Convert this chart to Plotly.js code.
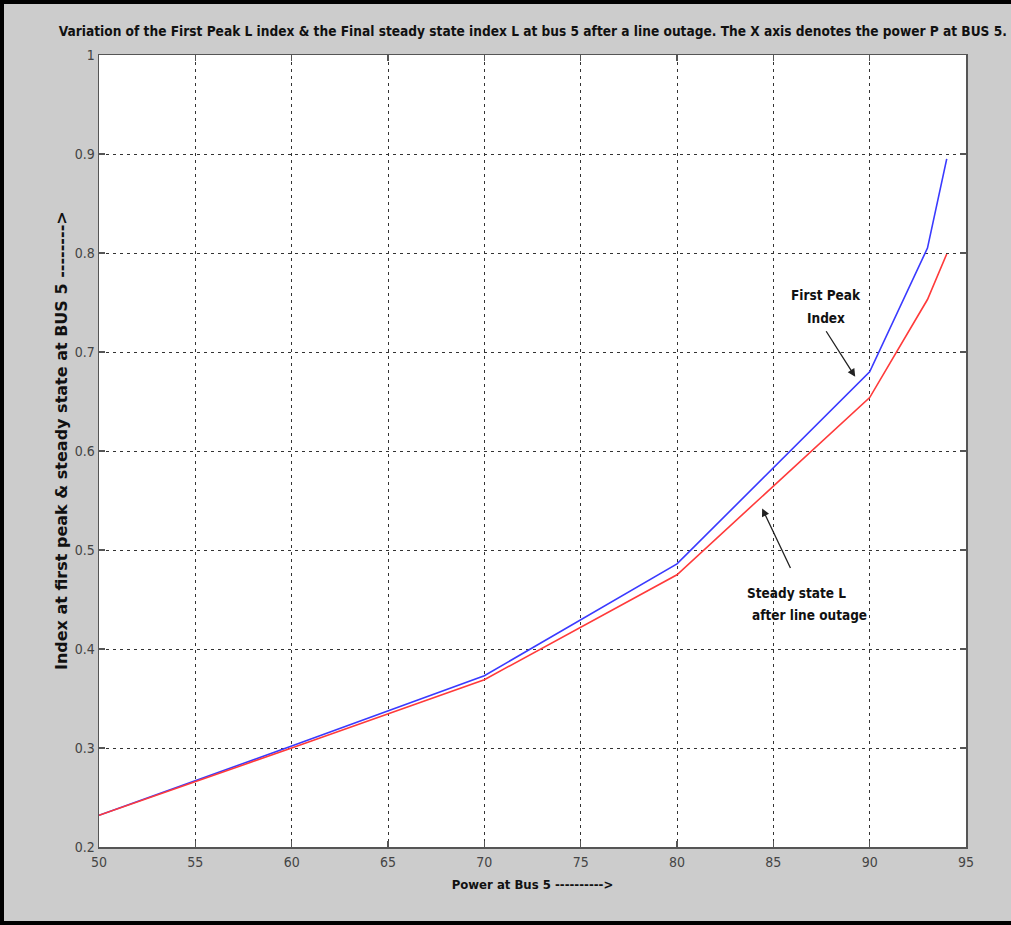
<!DOCTYPE html>
<html>
<head>
<meta charset="utf-8">
<script src="https://cdn.plot.ly/plotly-3.0.1.min.js"></script>
<style>
  html, body { margin: 0; padding: 0; background: #cccccc; }
  #frame {
    position: absolute; left: 0; top: 0;
    width: 1011px; height: 925px; box-sizing: border-box;
    border-left: 4px solid #000; border-top: 4px solid #000; border-bottom: 4px solid #000;
    background: #cccccc;
  }
  #chart { position: absolute; left: -4px; top: -4px; width: 1011px; height: 925px; }
</style>
</head>
<body>
<div id="frame"><div id="chart"></div></div>
<script>
// Power at bus 5 (x axis)
const powerBus5 = [50, 60, 70, 80, 90, 93, 94];
// L index at the first peak after the outage
const firstPeakIndex = [0.232, 0.302, 0.373, 0.486, 0.680, 0.805, 0.895];
// Final steady-state L index after the outage
const steadyStateIndex = [0.232, 0.300, 0.369, 0.475, 0.654, 0.753, 0.799];

const xTicks = [50, 55, 60, 65, 70, 75, 80, 85, 90, 95];
const yTicks = [0.2, 0.3, 0.4, 0.5, 0.6, 0.7, 0.8, 0.9, 1];
const yTickText = ['0.2', '0.3', '0.4', '0.5', '0.6', '0.7', '0.8', '0.9', '1'];

const narrow = '"DejaVu Sans Condensed", "Liberation Sans", Arial, sans-serif';

const traces = [
  {
    x: powerBus5, y: firstPeakIndex, type: 'scatter', mode: 'lines',
    line: { color: '#3a3aff', width: 1.6 }, name: 'First Peak Index', hoverinfo: 'x+y'
  },
  {
    x: powerBus5, y: steadyStateIndex, type: 'scatter', mode: 'lines',
    line: { color: '#ff3a3a', width: 1.6 }, name: 'Steady state L', hoverinfo: 'x+y'
  }
];

const axisCommon = {
  showline: true, mirror: 'ticks', linecolor: '#555', linewidth: 1.5,
  ticks: 'inside', ticklen: 6, tickcolor: '#555', tickwidth: 1.5,
  showgrid: true, gridcolor: '#333', gridwidth: 1, griddash: '3px,4px',
  zeroline: false,
  tickfont: { family: narrow, size: 14, color: '#444' }
};

const layout = {
  width: 1011, height: 925,
  paper_bgcolor: 'rgba(0,0,0,0)', plot_bgcolor: '#ffffff',
  margin: { l: 99, r: 45, t: 55, b: 78 },
  showlegend: false,
  title: {
    text: 'Variation of the First Peak L index &amp; the Final steady state index L at bus 5 after a line outage. The X axis denotes the power P at BUS 5.',
    font: { family: narrow, size: 13.6, color: '#111', weight: 'bold' },
    x: 0.527, xanchor: 'center', y: 0.966, yanchor: 'middle'
  },
  xaxis: Object.assign({}, axisCommon, {
    range: [50, 95], tickvals: xTicks, ticklabelstandoff: 2,
    title: { text: 'Power at Bus 5 ---------->', standoff: 10,
             font: { family: narrow, size: 13, color: '#111', weight: 'bold' } }
  }),
  yaxis: Object.assign({}, axisCommon, {
    range: [0.2, 1], tickvals: yTicks, ticktext: yTickText, ticklabelstandoff: 0
  }),
  annotations: [
    // vertical axis caption, set slightly above the plot's middle
    { x: -0.0438, y: 0.5126, xref: 'paper', yref: 'paper', xanchor: 'center', yanchor: 'middle',
      textangle: -90, showarrow: false,
      text: 'Index at first peak &amp; steady state at BUS 5 -------->',
      font: { family: '"DejaVu Sans", sans-serif', size: 16, color: '#111', weight: 'bold' } },
    { x: 89.25, y: 0.675, xref: 'x', yref: 'y', text: '', showarrow: true,
      ax: -30, ay: -47, arrowhead: 2, arrowsize: 1.2, arrowwidth: 1.3, arrowcolor: '#222' },
    { x: 84.42, y: 0.542, xref: 'x', yref: 'y', text: '', showarrow: true,
      ax: 29, ay: 61, arrowhead: 2, arrowsize: 1.2, arrowwidth: 1.3, arrowcolor: '#222' }
  ]
};

// Label text blocks beside the arrows
const labelFont = { family: narrow, size: 13.5, color: '#111', weight: 'bold' };
layout.annotations.push(
  { x: 87.73, y: 0.7576, xref: 'x', yref: 'y', text: 'First Peak', showarrow: false, font: labelFont },
  { x: 87.73, y: 0.7343, xref: 'x', yref: 'y', text: 'Index', showarrow: false, font: labelFont },
  { x: 86.18, y: 0.4566, xref: 'x', yref: 'y', text: 'Steady state L', showarrow: false, font: labelFont },
  { x: 86.90, y: 0.4343, xref: 'x', yref: 'y', text: 'after line outage', showarrow: false, font: labelFont }
);

Plotly.newPlot('chart', traces, layout, { displayModeBar: false, staticPlot: true });
</script>
</body>
</html>
